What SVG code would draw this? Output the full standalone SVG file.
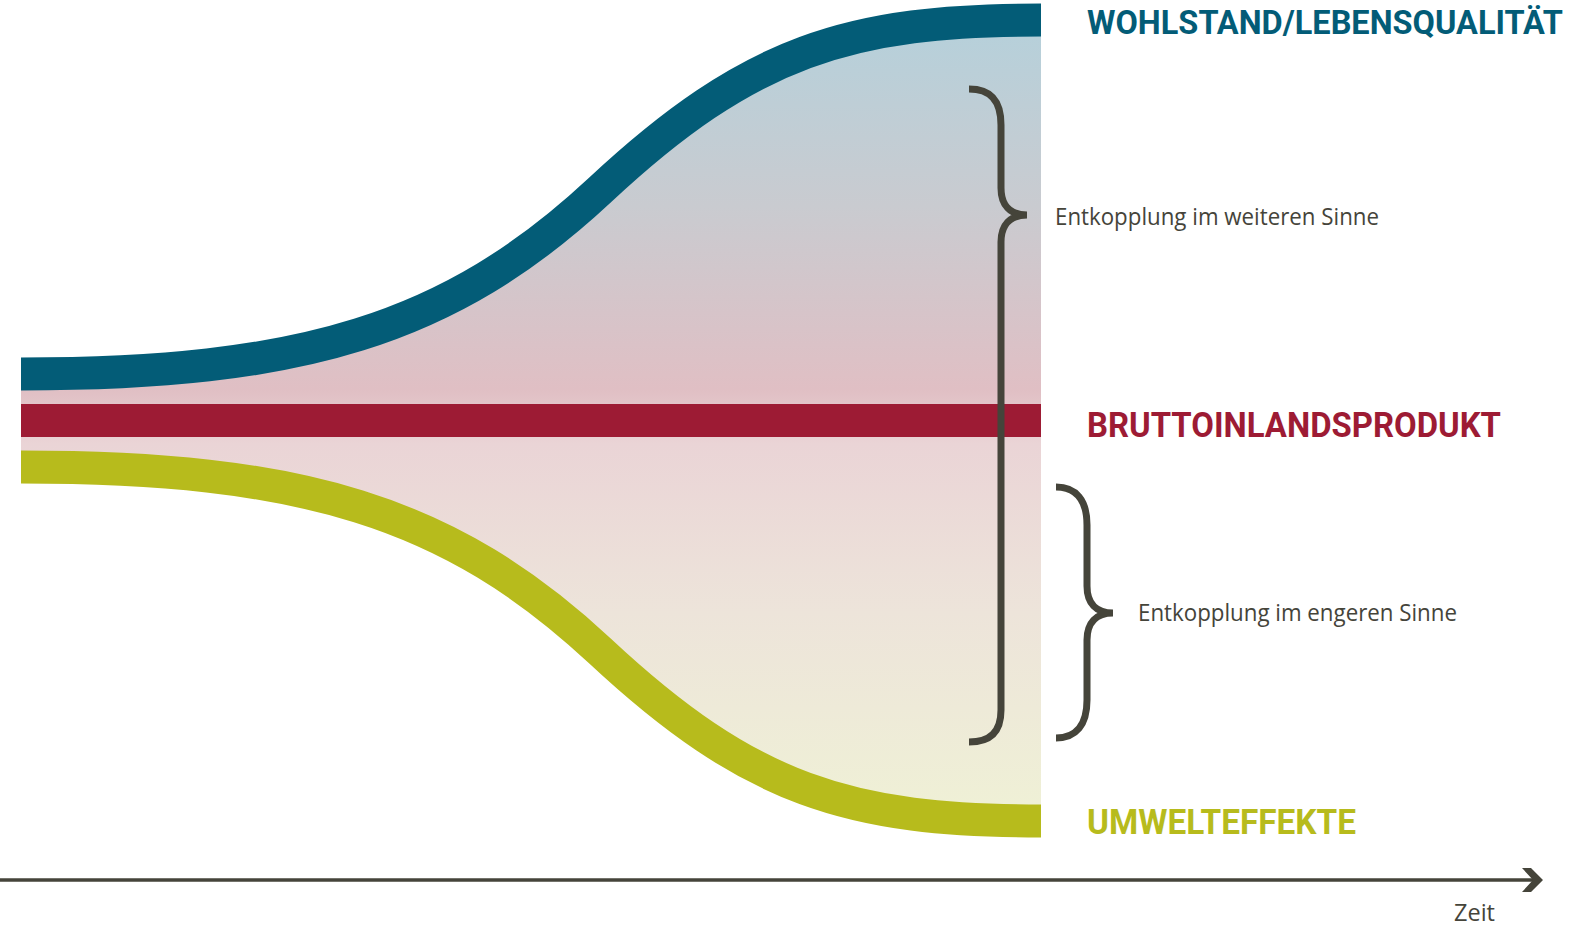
<svg xmlns="http://www.w3.org/2000/svg" width="1570" height="929" viewBox="0 0 1570 929">
<defs>
<linearGradient id="bg" gradientUnits="userSpaceOnUse" x1="0" y1="37" x2="0" y2="804">
<stop offset="0" stop-color="#b7d0da"/>
<stop offset="0.22" stop-color="#c9cbd0"/>
<stop offset="0.46" stop-color="#e0bfc4"/>
<stop offset="0.53" stop-color="#ead4d6"/>
<stop offset="0.75" stop-color="#ede4da"/>
<stop offset="1" stop-color="#eff0d6"/>
</linearGradient>
<style>
.band{fill:none;stroke-width:33;stroke-linecap:butt}
.brace{fill:none;stroke:#45443a;stroke-width:7;stroke-linecap:butt}
.lbl{font-family:Roboto,"Open Sans",sans-serif;font-weight:bold;font-size:35px}
.txt{font-family:"Open Sans","Noto Sans",sans-serif;font-size:23px;fill:#45443a}
</style>
</defs>
<rect width="1570" height="929" fill="#ffffff"/>
<g id="area">
<path d="M21,374 C300,374 450,330 600,190 C750,50 850,20 1041,20 L1041,821 C850,821 750,791 600,651 C450,511 300,467 21,467 Z" fill="url(#bg)"/>
</g>
<g id="wohlstand">
<path class="band" stroke="#035c77" d="M21,374 C300,374 450,330 600,190 C750,50 850,20 1041,20"/>
<text class="lbl" fill="#035c77" x="1087" y="34" style="font-size:33px" textLength="476" lengthAdjust="spacingAndGlyphs">WOHLSTAND/LEBENSQUALITÄT</text>
</g>
<g id="bip">
<rect x="21" y="404" width="1020" height="33" fill="#9d1b34"/>
<text class="lbl" fill="#9d1b34" x="1087" y="437" textLength="414" lengthAdjust="spacingAndGlyphs">BRUTTOINLANDSPRODUKT</text>
</g>
<g id="umwelt">
<path class="band" stroke="#b7bb1c" d="M21,467 C300,467 450,511 600,651 C750,791 850,821 1041,821"/>
<text class="lbl" fill="#b7bb1c" x="1087" y="834" textLength="269" lengthAdjust="spacingAndGlyphs">UMWELTEFFEKTE</text>
</g>
<g id="weiter">
<path class="brace" d="M969,89 C990,89 1001,100 1001,125 L1001,188 C1001,205 1010,215 1027,215 C1010,215 1001,225 1001,242 L1001,710 C1001,732 990,742 969,742"/>
<text class="txt" x="1055" y="225" textLength="324" lengthAdjust="spacingAndGlyphs">Entkopplung im weiteren Sinne</text>
</g>
<g id="enger">
<path class="brace" d="M1056,487 C1076,487 1087,500 1087,525 L1087,586 C1087,603 1096,613 1113,613 C1096,613 1087,623 1087,640 L1087,700 C1087,725 1076,738 1056,738"/>
<text class="txt" x="1138" y="621" textLength="319" lengthAdjust="spacingAndGlyphs">Entkopplung im engeren Sinne</text>
</g>
<g id="connectors">
<line x1="0" y1="880" x2="1536" y2="880" stroke="#45443a" stroke-width="3.5"/>
<polygon points="1522,868 1531,868 1543,880 1531,892 1522,892 1533,880" fill="#45443a"/>
</g>
<g id="zeit">
<text class="txt" x="1454" y="921" textLength="41" lengthAdjust="spacingAndGlyphs">Zeit</text>
</g>
</svg>
